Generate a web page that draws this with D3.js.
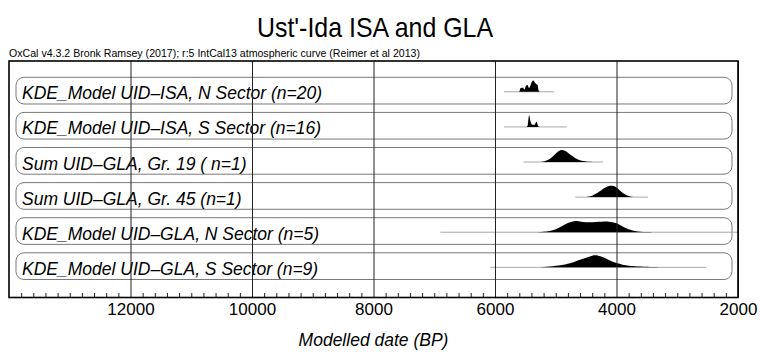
<!DOCTYPE html>
<html>
<head>
<meta charset="utf-8">
<script src="https://cdn.jsdelivr.net/npm/d3@7"></script>
<style>
  html, body { margin: 0; padding: 0; background: #fff; }
  svg { display: block; font-family: "Liberation Sans", Arial, Helvetica, sans-serif; }
</style>
</head>
<body>
<svg id="chart" width="760" height="352"></svg>
<script>
// ---------------- data ----------------
const titleText = "Ust'-Ida ISA and GLA";
const subtitleText = "OxCal v4.3.2 Bronk Ramsey (2017); r:5 IntCal13 atmospheric curve (Reimer et al 2013)";
const axisTitle = "Modelled date (BP)";

const rowLabels = [
  "KDE_Model UID\u2013ISA, N Sector (n=20)",
  "KDE_Model UID\u2013ISA, S Sector (n=16)",
  "Sum UID\u2013GLA, Gr. 19 ( n=1)",
  "Sum UID\u2013GLA, Gr. 45 (n=1)",
  "KDE_Model UID\u2013GLA, N Sector (n=5)",
  "KDE_Model UID\u2013GLA, S Sector (n=9)"
];

// extent of the grey (prior/likelihood) range line for each row, years BP
const rangeStart = [5850, 5850, 5530, 4680, 6900, 6080];
const rangeEnd   = [5030, 4820, 4220, 3480, 1950, 2520];

// posterior density per row: [year BP, relative density]
const densIsaN = [[5600,0],[5575,0.32],[5540,0.33],[5515,0.18],[5490,0.5],[5465,0.56],[5440,0.32],[5415,0.55],[5390,0.85],[5368,0.95],[5348,0.8],[5322,0.65],[5298,0.56],[5282,0.1],[5265,0]];
const densIsaS = [[5480,0],[5462,0.12],[5450,0.65],[5436,1.0],[5420,0.55],[5400,0.25],[5375,0.17],[5350,0.17],[5334,0.3],[5315,0.42],[5298,0.18],[5285,0.04],[5265,0]];
const densGr19 = [[5250,0],[5200,0.04],[5150,0.12],[5100,0.25],[5050,0.45],[5000,0.7],[4950,0.92],[4900,1.0],[4850,0.93],[4800,0.78],[4750,0.58],[4700,0.4],[4650,0.25],[4600,0.15],[4550,0.08],[4500,0.04],[4450,0.02],[4400,0]];
const densGr45 = [[4500,0],[4450,0.05],[4400,0.12],[4350,0.25],[4300,0.4],[4250,0.58],[4200,0.75],[4150,0.88],[4100,0.95],[4050,0.93],[4000,0.8],[3950,0.58],[3900,0.37],[3850,0.2],[3800,0.1],[3750,0.04],[3700,0.01],[3650,0]];
const densGlaN = [[5300,0],[5200,0.03],[5100,0.1],[5000,0.25],[4900,0.5],[4800,0.76],[4700,0.92],[4650,0.94],[4600,0.9],[4500,0.84],[4400,0.84],[4300,0.87],[4200,0.9],[4100,0.86],[4000,0.74],[3900,0.48],[3800,0.24],[3700,0.1],[3600,0.04],[3500,0.015],[3400,0]];
const densGlaS = [[5300,0],[5200,0.02],[5100,0.06],[5000,0.12],[4900,0.2],[4800,0.3],[4700,0.45],[4600,0.62],[4500,0.8],[4400,0.97],[4350,1.0],[4300,0.97],[4200,0.8],[4100,0.55],[4000,0.35],[3900,0.22],[3800,0.14],[3700,0.09],[3600,0.06],[3500,0.04],[3400,0.02],[3300,0.01],[3200,0]];
const densities = [densIsaN, densIsaS, densGr19, densGr45, densGlaN, densGlaS];

const majorTicks = [12000, 10000, 8000, 6000, 4000, 2000];
const minorStep = 200;

// ---------------- layout ----------------
const svg = d3.select("#chart");
const plot = { left: 9, right: 738, top: 61, bottom: 297.5 };

const x = d3.scaleLinear().domain([14000, 2000]).range([plot.left, plot.right]);
const y = d3.scaleBand().domain(rowLabels).range([73.1, 283.7]).paddingInner(0.24).paddingOuter(0.12);
const h = d3.scaleLinear().domain([0, 1]).range([0, 12]);

// title + subtitle
svg.append("text")
  .attr("x", 375).attr("y", 37)
  .attr("text-anchor", "middle")
  .attr("font-size", 28)
  .attr("textLength", 236).attr("lengthAdjust", "spacingAndGlyphs")
  .attr("fill", "#000")
  .text(titleText);

svg.append("text")
  .attr("x", 9).attr("y", 56.5)
  .attr("font-size", 11)
  .attr("textLength", 411).attr("lengthAdjust", "spacingAndGlyphs")
  .attr("fill", "#000")
  .text(subtitleText);

svg.append("defs").append("clipPath").attr("id", "plotclip")
  .append("rect")
  .attr("x", plot.left).attr("y", plot.top)
  .attr("width", plot.right - plot.left).attr("height", plot.bottom - plot.top);

const inner = svg.append("g").attr("clip-path", "url(#plotclip)");

// rows
const rows = inner.selectAll("g.row").data(rowLabels).join("g").attr("class", "row");

rows.append("rect")
  .attr("x", 16).attr("width", 732 - 16)
  .attr("y", d => y(d)).attr("height", y.bandwidth())
  .attr("rx", 8).attr("ry", 8)
  .attr("fill", "none").attr("stroke", "#7a7a7a").attr("stroke-width", 1);

rows.append("text")
  .attr("x", 22).attr("y", d => y(d) + 22)
  .attr("font-size", 17.5).attr("font-style", "italic")
  .attr("fill", "#000")
  .text(d => d);

rows.append("line")
  .attr("x1", (d, i) => x(rangeStart[i])).attr("x2", (d, i) => x(rangeEnd[i]))
  .attr("y1", d => y(d) + 14.5).attr("y2", d => y(d) + 14.5)
  .attr("stroke", "#a8a8a8").attr("stroke-width", 1);

rows.append("path")
  .attr("d", (d, i) => {
    const base = y(d) + 14.5;
    return d3.area()
      .x(p => x(p[0]))
      .y0(base)
      .y1(p => base - h(p[1]))
      .curve(d3.curveMonotoneX)(densities[i]);
  })
  .attr("fill", "#000");

// minor ticks
const minorTicks = d3.range(2000 + minorStep, 14000, minorStep).filter(v => !majorTicks.includes(v));
const minorAxis = d3.axisBottom(x).tickValues(minorTicks).tickSize(-4.5).tickFormat("");
svg.append("g").attr("transform", `translate(0,${plot.bottom})`).call(minorAxis)
  .call(g => g.select(".domain").remove())
  .call(g => g.selectAll("line").attr("stroke", "#222"));

// major ticks = grid lines + labels
const majorAxis = d3.axisBottom(x).tickValues(majorTicks)
  .tickSize(-(plot.bottom - plot.top)).tickPadding(5).tickFormat(d3.format("d"));
svg.append("g").attr("transform", `translate(0,${plot.bottom})`).call(majorAxis)
  .call(g => g.select(".domain").remove())
  .call(g => g.selectAll("line").attr("stroke", "#222").attr("stroke-width", 1))
  .call(g => g.selectAll("text").attr("font-size", 17).attr("fill", "#000")
    .attr("font-family", "'Liberation Sans', Arial, sans-serif"));

// frame
svg.append("rect")
  .attr("x", plot.left).attr("y", plot.top)
  .attr("width", plot.right - plot.left).attr("height", plot.bottom - plot.top)
  .attr("fill", "none").attr("stroke", "#000").attr("stroke-width", 1.6);

// axis title
svg.append("text")
  .attr("x", (plot.left + plot.right) / 2).attr("y", 346)
  .attr("text-anchor", "middle")
  .attr("font-size", 17.5).attr("font-style", "italic")
  .attr("fill", "#000")
  .text(axisTitle);
</script>
</body>
</html>
